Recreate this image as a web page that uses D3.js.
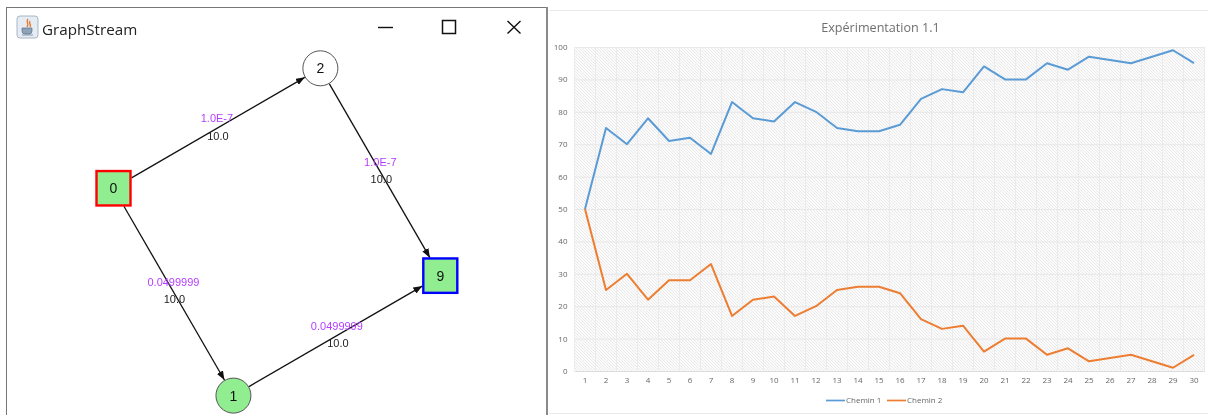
<!DOCTYPE html>
<html lang="en">
<head>
<meta charset="UTF-8" />
<title>GraphStream + Expérimentation 1.1</title>
<script src="https://d3js.org/d3.v7.min.js"></script>
<style>
  html, body { margin: 0; padding: 0; background: #fff; overflow: hidden; }
  svg { display: block; }
  .tick-label { font: 8px "Open Sans", sans-serif; fill: #666; }
  .edge { stroke: #111; stroke-width: 1.3; fill: none; }
</style>
</head>
<body>
<script>
const WIDTH = 1208, HEIGHT = 415;

// chart data
const days = d3.range(1, 31);
const chemin1 = [50,75,70,78,71,72,67,83,78,77,83,80,75,74,74,76,84,87,86,94,90,90,95,93,97,96,95,97,99,95];
const chemin2 = [50,25,30,22,28,28,33,17,22,23,17,20,25,26,26,24,16,13,14,6,10,10,5,7,3,4,5,3,1,5];
const seriesNames = ["Chemin 1", "Chemin 2"];
const seriesColors = ["#5b9bd5", "#ed7d31"];
const yTicks = d3.range(0, 101, 10);

// graph data (layout coordinates 0..1)
const nodeIds = ["0", "1", "2", "9"];
const nodeX = [0, 0.367, 0.633, 1];
const nodeY = [0.3665, 1, 0, 0.6335];
const nodeFill = ["#90ee90", "#90ee90", "#ffffff", "#90ee90"];
const nodeStroke = ["#ff0000", "#555555", "#555555", "#0000ff"];
const edgeFrom = ["0", "0", "1", "2"];
const edgeTo = ["2", "1", "9", "9"];
const edgeCost = ["1.0E-7", "0.0499999", "0.0499999", "1.0E-7"];
const edgeLen = ["10.0", "10.0", "10.0", "10.0"];

const svg = d3.select("body").append("svg")
    .attr("width", WIDTH)
    .attr("height", HEIGHT)
    .style("filter", "blur(0.4px)");

const defs = svg.append("defs");
const hatch = defs.append("pattern")
    .attr("id", "hatch")
    .attr("patternUnits", "userSpaceOnUse")
    .attr("width", 3).attr("height", 3);
hatch.append("rect").attr("width", 3).attr("height", 3).attr("fill", "#fbfbfb");
hatch.append("path")
    .attr("d", "M-1,2 L1,4 M0,0 L3,3 M2,-1 L4,1")
    .attr("stroke", "#e8e8e8").attr("stroke-width", 0.9);
defs.append("marker")
    .attr("id", "arrow")
    .attr("markerUnits", "userSpaceOnUse")
    .attr("viewBox", "0 0 9 7")
    .attr("markerWidth", 9).attr("markerHeight", 7)
    .attr("refX", 9).attr("refY", 3.5)
    .attr("orient", "auto")
  .append("path").attr("d", "M0,0 L9,3.5 L0,7 Z").attr("fill", "#111");

// ---- left: GraphStream window ----
const win = svg.append("g");
win.append("rect").attr("x", 6.5).attr("y", 7.5).attr("width", 540.5).attr("height", 420)
    .attr("fill", "#fff").attr("stroke", "#777").attr("stroke-width", 1);
win.append("line").attr("x1", 547).attr("x2", 547).attr("y1", 7).attr("y2", HEIGHT)
    .attr("stroke", "#8a8a8a").attr("stroke-width", 2);

// java icon
const icon = win.append("g").attr("transform", "translate(17,16)");
icon.append("rect").attr("width", 21).attr("height", 22).attr("rx", 3)
    .attr("fill", "#e6ecf3").attr("stroke", "#a8b6c6");
icon.append("path").attr("d", "M11,3 C8,6 13,7 10,11 M13,5 C11,8 15,8 13,11")
    .attr("fill", "none").attr("stroke", "#e8792b").attr("stroke-width", 1.4);
icon.append("path").attr("d", "M5,12 H15 V15 Q15,18 12,18 H8 Q5,18 5,15 Z M5,19 H16")
    .attr("fill", "#8ea2b8").attr("stroke", "#5a7490").attr("stroke-width", 0.7);

win.append("text").attr("x", 42).attr("y", 34.5)
    .attr("font-family", "'Open Sans', sans-serif").attr("font-size", 15.2).attr("fill", "#222")
    .text("GraphStream");

// window buttons
win.append("line").attr("x1", 378).attr("x2", 393).attr("y1", 27.5).attr("y2", 27.5)
    .attr("stroke", "#111").attr("stroke-width", 1.4);
win.append("rect").attr("x", 442.5).attr("y", 20.5).attr("width", 13).attr("height", 13)
    .attr("fill", "none").attr("stroke", "#111").attr("stroke-width", 1.5);
win.append("path").attr("d", "M507.5,21 L520.5,33.5 M520.5,21 L507.5,33.5")
    .attr("fill", "none").attr("stroke", "#111").attr("stroke-width", 1.4);

const gx = d3.scaleLinear().domain([0, 1]).range([113.5, 440.3]);
const gy = d3.scaleLinear().domain([0, 1]).range([68.3, 395.6]);
const NODE_R = 18;

// distance from the node centre to its outline along direction (dx,dy)
function outline(id, dx, dy) {
  const len = Math.hypot(dx, dy);
  if (id === "0" || id === "9") {
    return NODE_R / Math.max(Math.abs(dx), Math.abs(dy)) * len;
  }
  return NODE_R;
}

edgeFrom.forEach((from, i) => {
  const a = nodeIds.indexOf(from), b = nodeIds.indexOf(edgeTo[i]);
  const x1 = gx(nodeX[a]), y1 = gy(nodeY[a]), x2 = gx(nodeX[b]), y2 = gy(nodeY[b]);
  const dx = x2 - x1, dy = y2 - y1, len = Math.hypot(dx, dy);
  const s = outline(from, dx, dy) / len, e = outline(edgeTo[i], dx, dy) / len;
  win.append("line").attr("class", "edge")
      .attr("x1", x1 + dx * s).attr("y1", y1 + dy * s)
      .attr("x2", x2 - dx * e).attr("y2", y2 - dy * e)
      .attr("marker-end", "url(#arrow)");
  const mx = (x1 + x2) / 2, my = (y1 + y2) / 2;
  win.append("text").attr("x", mx).attr("y", my - 6).attr("text-anchor", "middle")
      .attr("font-family", "'Liberation Sans', Arial, sans-serif").attr("font-size", 11)
      .attr("fill", "#b53dff").text(edgeCost[i]);
  win.append("text").attr("x", mx + 1).attr("y", my + 11.5).attr("text-anchor", "middle")
      .attr("font-family", "'Liberation Sans', Arial, sans-serif").attr("font-size", 11)
      .attr("fill", "#222").text(edgeLen[i]);
});

nodeIds.forEach((id, i) => {
  const cx = gx(nodeX[i]), cy = gy(nodeY[i]);
  if (id === "0" || id === "9") {
    win.append("rect").attr("x", cx - 17).attr("y", cy - 17.2).attr("width", 34).attr("height", 34.4)
        .attr("fill", nodeFill[i]).attr("stroke", nodeStroke[i]).attr("stroke-width", 2.4);
  } else {
    win.append("circle").attr("cx", cx).attr("cy", cy).attr("r", 17.5)
        .attr("fill", nodeFill[i]).attr("stroke", nodeStroke[i]).attr("stroke-width", 1);
  }
  win.append("text").attr("x", cx).attr("y", cy + 5).attr("text-anchor", "middle")
      .attr("font-family", "'Liberation Sans', Arial, sans-serif").attr("font-size", 14)
      .attr("fill", "#111").text(id);
});

// ---- right: line chart ----
const chart = svg.append("g");
chart.append("line").attr("x1", 549).attr("x2", WIDTH).attr("y1", 10.5).attr("y2", 10.5)
    .attr("stroke", "#eaeaea");
chart.append("line").attr("x1", 549).attr("x2", WIDTH).attr("y1", 413.5).attr("y2", 413.5)
    .attr("stroke", "#eaeaea");

const x = d3.scaleBand().domain(days).range([574.5, 1204.5]);
const y = d3.scaleLinear().domain([0, 100]).range([371, 47]);
const cx = d => x(d) + x.bandwidth() / 2;

chart.append("rect")
    .attr("x", 574.5).attr("y", 47).attr("width", 630).attr("height", 324)
    .attr("fill", "url(#hatch)");

// vertical grid at band edges
chart.selectAll(".vgrid").data(days.concat([31])).enter().append("line")
    .attr("x1", d => d === 31 ? 1204.5 : x(d))
    .attr("x2", d => d === 31 ? 1204.5 : x(d))
    .attr("y1", y(100)).attr("y2", y(0))
    .attr("stroke", "#ebebeb").attr("stroke-width", 1);

chart.append("g")
    .attr("transform", "translate(574.5,0)")
    .call(d3.axisLeft(y).tickValues(yTicks).tickSize(-630).tickPadding(6))
    .call(g => g.select(".domain").remove())
    .call(g => g.selectAll(".tick line").attr("stroke", "#e8e8e8"))
    .call(g => g.selectAll(".tick text").attr("class", "tick-label").attr("fill", null).attr("font-size", null).attr("font-family", null).attr("x", -7));

chart.append("g")
    .attr("transform", "translate(0,371)")
    .call(d3.axisBottom(x).tickSize(0).tickPadding(6))
    .call(g => g.select(".domain").attr("stroke", "#dcdcdc"))
    .call(g => g.selectAll(".tick text").attr("class", "tick-label").attr("fill", null).attr("font-size", null).attr("font-family", null));

const line = d3.line().x((d, i) => cx(days[i])).y(d => y(d));
[chemin1, chemin2].forEach((s, i) => {
  chart.append("path").datum(s)
      .attr("fill", "none").attr("stroke", seriesColors[i])
      .attr("stroke-width", 2).attr("stroke-linejoin", "round")
      .attr("d", line);
});

chart.append("text").attr("x", 880.5).attr("y", 32).attr("text-anchor", "middle")
    .attr("font-family", "'Open Sans', sans-serif").attr("font-size", 12.6)
    .attr("fill", "#6f6f6f").text("Expérimentation 1.1");

// legend
const legendX = [826, 887];
seriesNames.forEach((name, i) => {
  chart.append("line").attr("x1", legendX[i]).attr("x2", legendX[i] + 19)
      .attr("y1", 400.5).attr("y2", 400.5)
      .attr("stroke", seriesColors[i]).attr("stroke-width", 1.7);
  chart.append("text").attr("class", "tick-label")
      .attr("x", legendX[i] + 20).attr("y", 403).text(name);
});
</script>
</body>
</html>
